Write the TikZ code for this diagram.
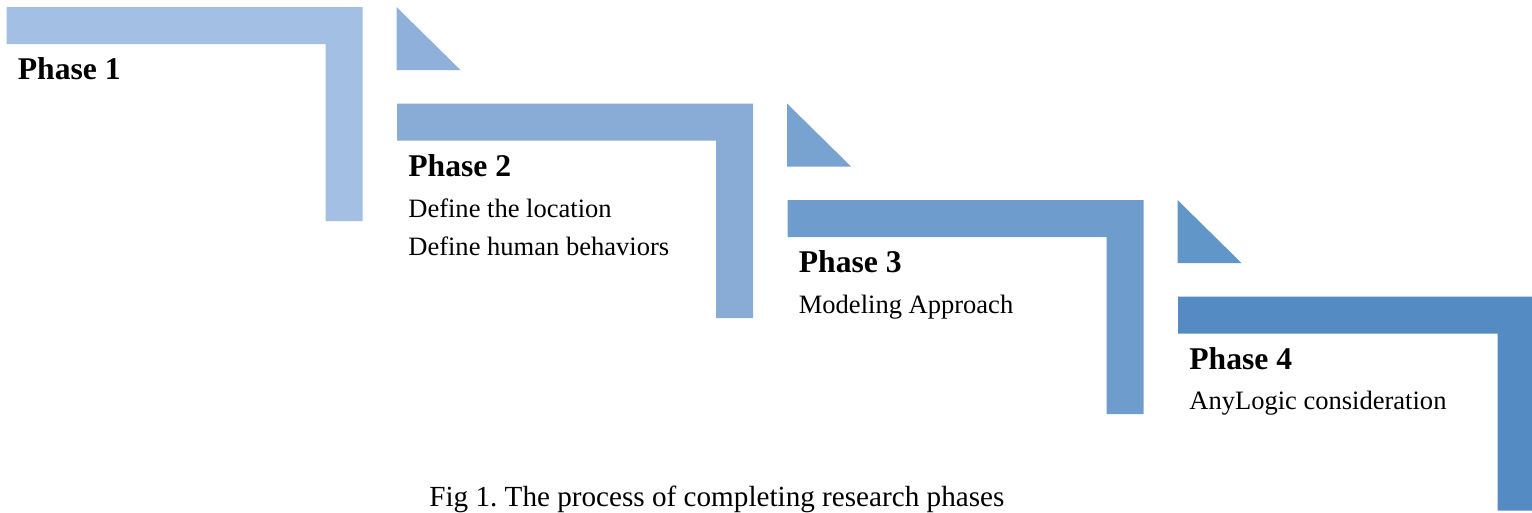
\documentclass[tikz,border=0pt]{standalone}
\usepackage{fontspec}
\setmainfont{Liberation Serif}

\definecolor{barA}{HTML}{A3BFE3}
\definecolor{barB}{HTML}{89ACD7}
\definecolor{barC}{HTML}{6E9DCD}
\definecolor{barD}{HTML}{548BC2}
\definecolor{triA}{HTML}{8FB0DA}
\definecolor{triB}{HTML}{78A2D0}
\definecolor{triC}{HTML}{6096C8}

\tikzset{
  phasetitle/.style={anchor=base west, inner sep=0pt, font=\fontsize{18}{20}\selectfont\bfseries},
  phasetext/.style={anchor=base west, inner sep=0pt, font=\fontsize{15.1}{17}\selectfont},
}

\begin{document}
\begin{tikzpicture}[x=0.02cm, y=-0.02cm]
        \useasboundingbox (0,0) rectangle (1532,512);
        % phase 1
        \fill [barA] (6.5,7) -- (362.5,7) -- (362.5,221) -- (325.5,221) -- (325.5,44) -- (6.5,44) -- cycle;
        \fill [triA] (396.5,7) -- (396.5,70) -- (460.5,70) -- cycle;
        \node [phasetitle] (p1) at (17.5,79) {Phase 1};
        % phase 2
        \fill [barB] (397,103.5) -- (753,103.5) -- (753,318) -- (716,318) -- (716,140.5) -- (397,140.5) -- cycle;
        \fill [triB] (787,103.5) -- (787,166.5) -- (851,166.5) -- cycle;
        \node [phasetitle] (p2) at (408,176) {Phase 2};
        \node [phasetext] (p2a) at (408,217.5) {Define the location};
        \node [phasetext] (p2b) at (408,255.5) {Define human behaviors};
        % phase 3
        \fill [barC] (787.5,200) -- (1143.5,200) -- (1143.5,414) -- (1106.5,414) -- (1106.5,237) -- (787.5,237) -- cycle;
        \fill [triC] (1177.5,200) -- (1177.5,263) -- (1241.5,263) -- cycle;
        \node [phasetitle] (p3) at (798.5,272.5) {Phase 3};
        \node [phasetext] (p3a) at (798.5,313) {Modeling Approach};
        % phase 4
        \fill [barD] (1178,296.5) -- (1532,296.5) -- (1532,510.5) -- (1497.5,510.5) -- (1497.5,333.5) -- (1178,333.5) -- cycle;
        \node [phasetitle] (p4) at (1189,369) {Phase 4};
        \node [phasetext] (p4a) at (1189,409.5) {AnyLogic consideration};
        % caption
        \node [anchor=base west, inner sep=0pt, font=\fontsize{16.6}{19}\selectfont] (cap) at (429,506.5) {Fig 1.\ The process of completing research phases};
\end{tikzpicture}
\end{document}
